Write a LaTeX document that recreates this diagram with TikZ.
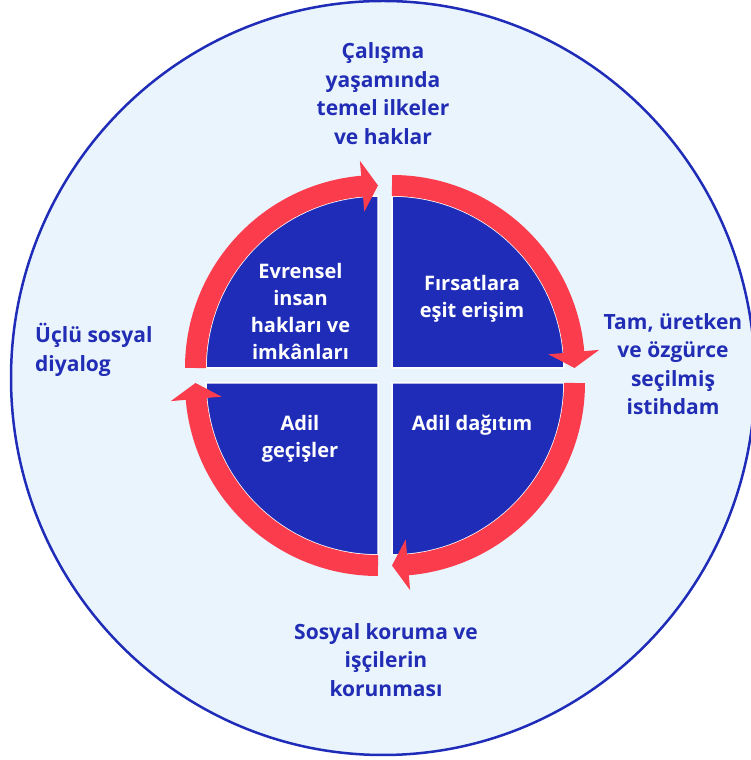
\documentclass[tikz,border=0pt]{standalone}
\usepackage{fontspec}
\setmainfont{Open Sans}
\definecolor{bgl}{RGB}{234,244,253}
\definecolor{qblue}{RGB}{31,44,184}
\definecolor{tblue}{RGB}{33,45,180}
\definecolor{ared}{RGB}{250,60,76}
\tikzset{
  quad/.style={fill=qblue, draw=white, line width=1.5pt},
  band/.style={draw=ared, line width=21pt, line cap=butt},
  head/.style={fill=ared},
  intext/.style={text=white, font=\fontsize{20}{27}\selectfont\bfseries, align=center, inner sep=0pt},
  outtext/.style={text=tblue, font=\fontsize{21}{28.5}\selectfont\bfseries, align=center, inner sep=0pt},
}
\begin{document}
\begin{tikzpicture}[x=1pt,y=1pt]
\useasboundingbox (0,0) rectangle (751,760);
% outer ellipse
\draw[fill=bgl, draw=qblue, line width=2.5pt] (383,382) ellipse [x radius=372, y radius=377];
% quadrant centres
\coordinate (ctl) at (378,392);
\coordinate (ctr) at (392,392);
\coordinate (cbl) at (378,377);
\coordinate (cbr) at (392,377);
% quadrants
\draw[quad] (ctl) -- ++(180:172) arc[start angle=180, end angle=90, radius=172] -- cycle;
\draw[quad] (ctr) -- ++(90:172) arc[start angle=90, end angle=0, radius=172] -- cycle;
\draw[quad] (cbr) -- ++(0:172) arc[start angle=0, end angle=-90, radius=172] -- cycle;
\draw[quad] (cbl) -- ++(-90:172) arc[start angle=-90, end angle=-180, radius=172] -- cycle;
% red arrows
\begin{scope}[shift={(ctl)}]
  \draw[band] (180:182.5) arc[start angle=180, end angle=94.7, radius=182.5];
  \fill[head] (95:157) -- (95:208) -- (90:182.5) -- cycle;
\end{scope}
\begin{scope}[shift={(ctr)}]
  \draw[band] (90:182.5) arc[start angle=90, end angle=4.7, radius=182.5];
  \fill[head] (5:157) -- (5:208) -- (0:182.5) -- cycle;
\end{scope}
\begin{scope}[shift={(cbr)}]
  \draw[band] (0:182.5) arc[start angle=0, end angle=-85.3, radius=182.5];
  \fill[head] (-85:157) -- (-85:208) -- (-90:182.5) -- cycle;
\end{scope}
\begin{scope}[shift={(cbl)}]
  \draw[band] (-90:182.5) arc[start angle=-90, end angle=-175.3, radius=182.5];
  \fill[head] (-175:157) -- (-175:208) -- (-180:182.5) -- cycle;
\end{scope}
% inner texts
\node[intext] (q1) at (300.5,448) {Evrensel\\insan\\hakları ve\\imkânları};
\node[intext] (q2) at (472,461.5) {Fırsatlara\\eşit erişim};
\node[intext] (q3) at (300,321.5) {Adil\\geçişler};
\node[intext] (q4) at (472,335) {Adil dağıtım};
% outer texts
\node[outtext] (o1) at (383,666.5) {Çalışma\\yaşamında\\temel ilkeler\\ve haklar};
\node[outtext] (o2) at (673,396) {Tam, üretken\\ve özgürce\\seçilmiş\\istihdam};
\node[outtext] (o3) at (386,100) {Sosyal koruma ve\\işçilerin\\korunması};
\node[outtext, align=left, anchor=west] (o4) at (35,410) {Üçlü sosyal\\diyalog};
\end{tikzpicture}
\end{document}
